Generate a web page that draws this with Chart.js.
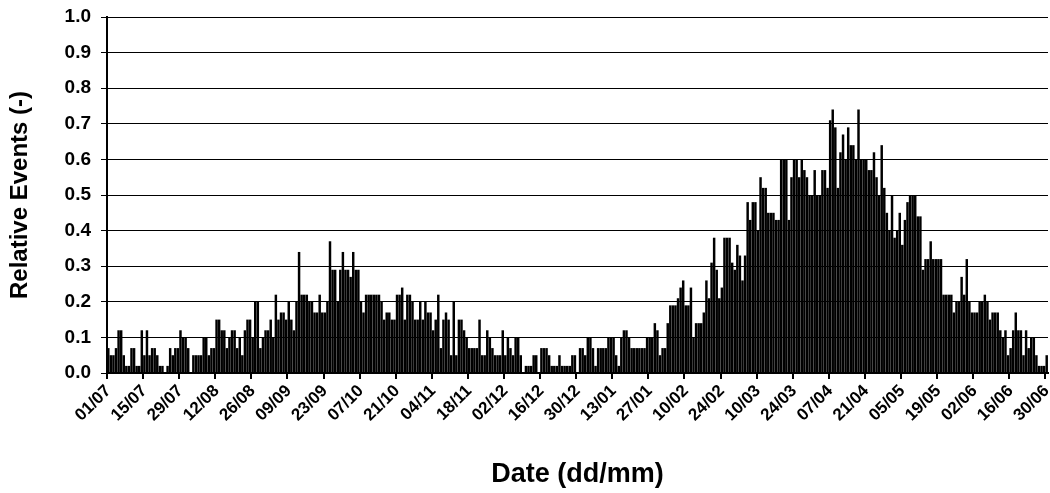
<!DOCTYPE html>
<html lang="en">
<head>
  <meta charset="UTF-8">
  <title>Relative Events</title>
  <script src="https://cdn.jsdelivr.net/npm/chart.js"></script>
  <style>
    html, body { margin: 0; padding: 0; background: #fff; }
    #wrap { width: 1050px; height: 493px; position: relative; }
  </style>
</head>
<body>
  <div id="wrap"><canvas id="eventsChart"></canvas></div>
  <script>
    // relative events per day, one array per month (Jul -> Jun)
    const evJul = [0.07,0.05,0.05,0.07,0.12,0.12,0.05,0.02,0.02,0.07, 0.07,0.02,0.02,0.12,0.05,0.12,0.05,0.07,0.07,0.05, 0.02,0.02,0.00,0.02,0.07,0.05,0.07,0.07,0.12,0.10, 0.10];
    const evAug = [0.07,0.00,0.05,0.05,0.05,0.05,0.10,0.10,0.05, 0.07,0.07,0.15,0.15,0.12,0.12,0.07,0.10,0.12,0.12, 0.07,0.10,0.05,0.12,0.15,0.15,0.10,0.20,0.20,0.07, 0.10,0.12];
    const evSep = [0.12,0.15,0.10,0.22,0.15,0.17,0.17,0.15, 0.20,0.15,0.12,0.20,0.34,0.22,0.22,0.22,0.20,0.20, 0.17,0.17,0.22,0.17,0.17,0.20,0.37,0.29,0.29,0.20, 0.29,0.34];
    const evOct = [0.29,0.29,0.27,0.34,0.29,0.29,0.20,0.17, 0.22,0.22,0.22,0.22,0.22,0.22,0.20,0.15,0.17,0.17, 0.15,0.15,0.22,0.22,0.24,0.15,0.22,0.22,0.20,0.15, 0.15,0.20,0.15];
    const evNov = [0.20,0.17,0.17,0.12,0.15,0.22,0.07, 0.15,0.17,0.15,0.05,0.20,0.05,0.15,0.15,0.12,0.10, 0.07,0.07,0.07,0.07,0.15,0.05,0.05,0.12,0.10,0.07, 0.05,0.05,0.05];
    const evDec = [0.12,0.05,0.10,0.07,0.05,0.10,0.10, 0.05,0.00,0.02,0.02,0.02,0.05,0.05,0.00,0.07,0.07, 0.07,0.05,0.02,0.02,0.02,0.05,0.02,0.02,0.02,0.02, 0.05,0.05,0.00,0.07];
    const evJan = [0.07,0.05,0.10,0.10,0.07,0.02, 0.07,0.07,0.07,0.07,0.10,0.10,0.10,0.05,0.02,0.10, 0.12,0.12,0.10,0.07,0.07,0.07,0.07,0.07,0.07,0.10, 0.10,0.10,0.14,0.12,0.05];
    const evFeb = [0.07,0.07,0.14,0.19,0.19,0.19,0.21, 0.24,0.26,0.19,0.19,0.24,0.10,0.14,0.14,0.14,0.17, 0.26,0.21,0.31,0.38,0.29,0.21,0.24,0.38,0.38,0.38, 0.31];
    const evMar = [0.29, 0.36,0.33,0.26,0.33,0.48,0.43,0.48,0.48,0.40,0.55, 0.52,0.52,0.45,0.45,0.45,0.43,0.43,0.60,0.60,0.60, 0.43,0.55,0.60,0.60,0.55,0.60,0.57,0.55,0.50,0.50];
    const evApr = [0.57, 0.50,0.50,0.57,0.57,0.52,0.71,0.74,0.69,0.52,0.62, 0.67,0.60,0.69,0.64,0.64,0.60,0.74,0.60,0.60,0.60, 0.57,0.57,0.62,0.55,0.50,0.64,0.52,0.45,0.40];
    const evMay = [0.50,0.38, 0.40,0.45,0.36,0.43,0.48,0.50,0.50,0.50,0.44,0.44, 0.29,0.32,0.32,0.37,0.32,0.32,0.32,0.32,0.22,0.22, 0.22,0.22,0.17,0.20,0.20,0.27,0.22,0.32,0.20];
    const evJun = [0.17,0.17, 0.17,0.20,0.20,0.22,0.20,0.15,0.17,0.17,0.17,0.12, 0.10,0.12,0.05,0.07,0.12,0.17,0.12,0.12,0.05,0.12, 0.07,0.10,0.10,0.05,0.02,0.02,0.02,0.05];

    const monthNums = [7, 8, 9, 10, 11, 12, 1, 2, 3, 4, 5, 6];
    const monthData = [evJul, evAug, evSep, evOct, evNov, evDec, evJan, evFeb, evMar, evApr, evMay, evJun];

    // date labels under the x axis (every 14 days)
    const tickLabels = ['01/07','15/07','29/07','12/08','26/08','09/09','23/09','07/10','21/10','04/11',
                        '18/11','02/12','16/12','30/12','13/01','27/01','10/02','24/02','10/03','24/03',
                        '07/04','21/04','05/05','19/05','02/06','16/06','30/06'];
    const labelEvery = 14;
    // y axis ticks
    const yTicks = [0.0, 0.1, 0.2, 0.3, 0.4, 0.5, 0.6, 0.7, 0.8, 0.9, 1.0];

    const pad2 = n => String(n).padStart(2, '0');

    // build dd/mm categories and the flat series
    const dayLabels = [];
    const relEvents = [];
    monthData.forEach((arr, m) => {
      arr.forEach((v, d) => {
        dayLabels.push(pad2(d + 1) + '/' + pad2(monthNums[m]));
        relEvents.push(v);
      });
    });

    const boldFont = size => ({ family: "'Liberation Sans', Arial, sans-serif", size: size, weight: 'bold' });

    const ctx = document.getElementById('eventsChart').getContext('2d');
    new Chart(ctx, {
      type: 'bar',
      data: {
        labels: dayLabels,
        datasets: [{
          data: relEvents,
          xAxisID: 'x',
          yAxisID: 'y',
          backgroundColor: '#000',
          borderWidth: 0,
          barPercentage: 0.96,
          categoryPercentage: 1.0
        }]
      },
      options: {
        responsive: true,
        maintainAspectRatio: false,
        animation: false,
        layout: { padding: { top: 17, right: 2, left: 0, bottom: 0 } },
        plugins: { legend: { display: false }, tooltip: { enabled: false } },
        scales: {
          x: {
            offset: true,
            grid: {
              display: true,
              offset: true,
              drawOnChartArea: false,
              drawTicks: true,
              tickLength: 6,
              lineWidth: 2,
              color: c => (c.index % labelEvery === 0 ? '#000' : 'rgba(0,0,0,0)')
            },
            border: { display: true, color: '#000', width: 2 },
            ticks: {
              autoSkip: false,
              maxRotation: 45,
              minRotation: 45,
              padding: 2,
              labelOffset: 0,
              color: '#000',
              font: boldFont(17),
              callback: (v, i) => (i % labelEvery === 0 ? (tickLabels[i / labelEvery] || '') : '')
            },
            title: { display: true, text: 'Date (dd/mm)', color: '#000', font: boldFont(27), padding: { top: 0, bottom: 2 } },
            // fixed axis height, and no extra side padding for the rotated labels
            afterFit: s => { s.height = 120; s.paddingLeft = 0; s.paddingRight = 0; }
          },
          y: {
            min: 0,
            max: 1,
            afterBuildTicks: s => { s.ticks = yTicks.map(v => ({ value: v })); },
            grid: { color: '#000', lineWidth: 1, drawTicks: true, tickLength: 6 },
            border: { display: true, color: '#000', width: 2 },
            ticks: {
              padding: 10,
              color: '#000',
              font: Object.assign(boldFont(19), { lineHeight: 1 }),
              callback: v => Number(v).toFixed(1)
            },
            title: { display: true, text: 'Relative Events (-)', color: '#000', font: boldFont(24), padding: { top: 6, bottom: 0 } },
            afterFit: s => { s.width = 107; s.paddingTop = 0; s.paddingBottom = 0; }
          }
        }
      }
    });
  </script>
</body>
</html>
